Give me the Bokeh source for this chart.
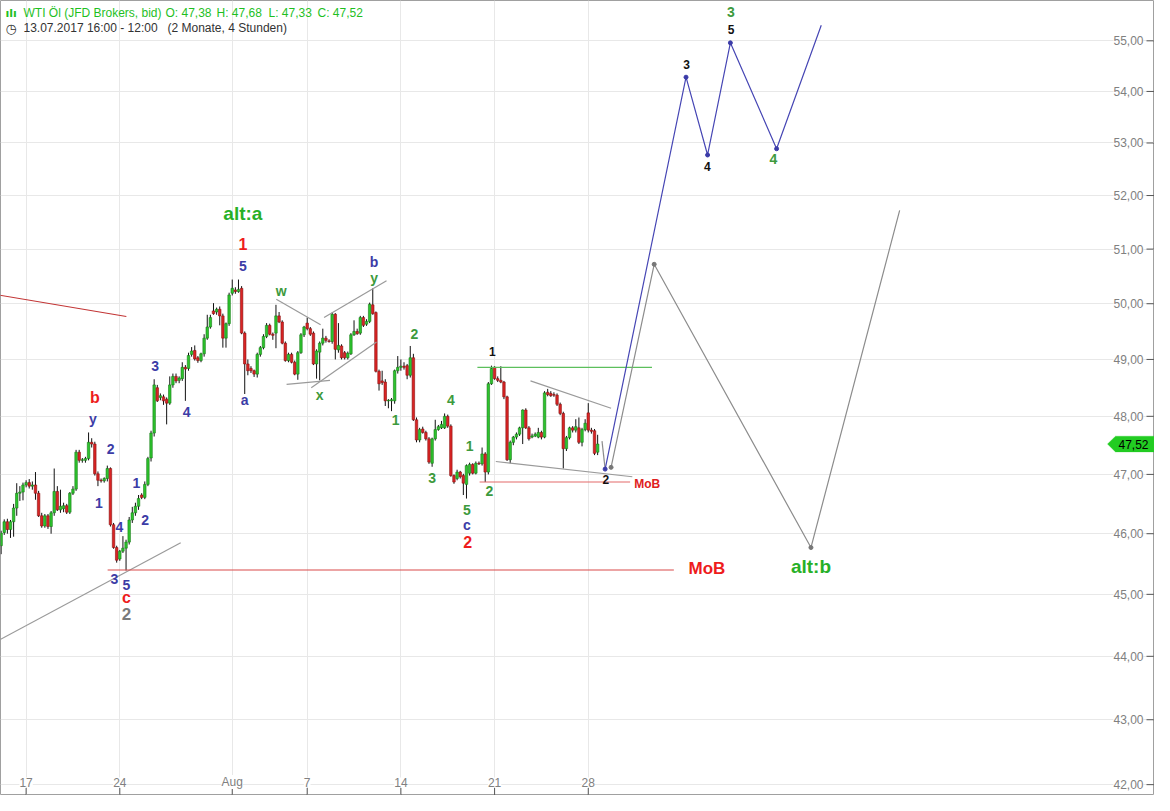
from bokeh.plotting import figure
from bokeh.models import Range1d, ColumnDataSource, Grid, FixedTicker, Label, PolyAnnotation
from bokeh.core.properties import value
from bokeh.embed import file_html
from bokeh.resources import INLINE

# ---------------- data: 4h candles from 13.07.2017 16:00 (index = candle slot) ----------------
open_ = [
45.80,46.02,46.20,46.07,46.20,46.43,46.68,46.70,46.82,46.86,
46.80,46.82,46.68,46.30,46.13,46.30,46.12,46.35,46.71,46.40,
46.42,46.47,46.36,46.68,46.75,47.38,47.24,47.24,47.27,47.55,
47.52,47.01,46.90,46.89,46.93,47.10,46.15,45.77,45.58,45.71,
45.76,45.86,46.23,46.35,46.46,46.65,46.61,46.83,47.28,47.71,
48.50,48.33,48.34,48.30,48.23,48.55,48.70,48.63,48.66,48.86,
48.84,49.09,49.16,49.03,48.98,49.10,49.38,49.58,49.87,49.85,
49.90,49.78,49.38,49.64,50.19,50.25,50.22,50.28,49.47,48.92,
48.84,48.80,48.74,49.09,49.21,49.41,49.61,49.45,49.47,49.78,
49.67,49.29,48.98,49.09,48.95,48.74,49.12,49.44,49.65,49.55,
49.47,48.92,49.13,49.29,49.38,49.33,49.32,49.81,49.17,49.24,
49.12,49.03,49.10,49.44,49.50,49.47,49.75,49.63,49.68,49.98,
49.84,48.79,48.62,48.60,48.27,48.27,48.27,48.80,48.86,48.88,
48.89,48.72,49.03,47.94,47.59,47.78,47.72,47.61,47.19,47.61,
47.77,47.80,47.80,48.00,47.83,46.98,46.93,47.04,46.98,46.83,
47.02,47.17,47.02,47.19,47.18,47.35,47.04,48.57,48.86,48.66,
48.63,48.60,48.34,47.25,47.55,47.64,47.69,47.80,48.11,47.80,
47.64,47.66,47.64,47.72,47.64,48.42,48.40,48.38,48.37,48.21,
48.05,47.44,47.63,47.80,47.76,47.80,47.55,47.77,48.06,47.76,
47.75,47.38]
high = [
46.05,46.24,46.25,46.23,46.50,46.85,46.80,46.86,46.90,46.92,
46.88,47.04,46.72,46.35,46.33,46.33,46.38,47.10,46.80,46.74,
46.52,46.50,46.70,46.80,47.42,47.42,47.28,47.30,47.72,47.62,
47.56,47.05,46.93,46.95,47.15,47.12,46.18,45.80,45.73,45.96,
45.90,46.28,46.45,46.52,46.65,46.68,46.88,47.30,47.75,48.65,
48.55,48.40,48.38,48.33,48.70,48.75,48.75,48.70,48.95,48.90,
49.12,49.22,49.25,49.06,49.12,49.45,49.80,49.80,50.01,49.93,
49.95,49.82,49.66,50.20,50.44,50.30,50.44,50.32,49.50,49.00,
48.88,48.82,49.12,49.24,49.45,49.65,49.64,49.48,49.98,49.85,
49.70,49.32,49.12,49.12,48.98,49.15,49.47,49.60,49.75,49.58,
49.50,49.18,49.32,49.55,49.42,49.36,49.84,49.83,49.65,49.27,
49.15,49.14,49.47,49.70,49.55,49.78,49.78,49.72,50.02,50.28,
49.86,48.82,48.80,48.65,48.30,48.32,48.82,49.06,49.00,48.95,
48.92,49.24,49.10,47.98,47.80,47.82,47.75,47.64,47.63,47.94,
47.85,47.92,48.05,48.03,47.86,47.00,47.08,47.06,47.01,47.17,
47.20,47.19,47.22,47.22,47.46,47.38,48.60,48.89,48.88,48.70,
48.88,48.62,48.36,47.58,47.66,47.72,47.82,48.12,48.14,47.83,
47.70,47.72,47.80,47.75,48.44,48.48,48.44,48.42,48.40,48.24,
48.08,47.66,47.82,47.83,47.95,47.98,47.80,47.95,48.23,47.80,
47.78,47.68]
low = [
45.66,45.98,46.00,45.93,45.95,46.30,46.55,46.56,46.78,46.76,
46.74,46.57,46.28,46.10,46.10,46.08,46.00,46.30,46.38,46.35,
46.36,46.33,46.33,46.65,46.72,47.20,47.20,47.20,47.24,47.46,
46.98,46.80,46.86,46.86,46.88,46.12,45.75,45.52,45.55,45.68,
45.39,45.82,46.18,46.30,46.40,46.58,46.58,46.80,47.22,47.65,
48.25,48.28,48.20,47.86,48.20,48.50,48.58,48.58,48.62,48.27,
48.80,49.05,48.98,48.94,48.95,49.05,49.35,49.55,49.80,49.80,
49.61,49.21,49.21,49.60,50.15,50.18,50.20,49.45,48.39,48.72,
48.76,48.69,48.68,49.05,49.18,49.38,49.43,49.35,49.20,49.65,
49.27,48.96,48.95,48.93,48.72,48.64,49.10,49.40,49.52,49.42,
48.90,48.66,48.63,49.25,49.30,49.30,49.28,49.00,49.12,49.00,
49.00,49.00,49.08,49.42,49.44,49.44,49.58,49.60,49.65,49.80,
48.77,48.45,48.55,48.18,48.14,48.09,48.22,48.75,48.80,48.82,
48.65,48.68,47.92,47.55,47.55,47.70,47.58,47.18,47.13,47.58,
47.75,47.78,47.78,47.80,46.96,46.84,46.90,46.93,46.65,46.59,
46.98,47.00,47.00,47.16,47.15,46.87,47.00,48.55,48.64,48.60,
48.58,48.30,47.23,47.19,47.50,47.60,47.66,47.52,47.78,47.58,
47.62,47.64,47.62,47.60,47.62,48.35,48.34,48.34,48.18,48.02,
47.10,47.40,47.60,47.72,47.72,47.52,47.48,47.74,47.72,47.70,
47.33,47.33]
close = [
46.01,46.20,46.07,46.20,46.43,46.68,46.70,46.82,46.86,46.80,
46.82,46.68,46.30,46.13,46.30,46.12,46.35,46.71,46.40,46.46,
46.47,46.36,46.68,46.75,47.38,47.24,47.25,47.27,47.55,47.52,
47.01,46.90,46.89,46.93,47.10,46.15,45.77,45.56,45.71,45.76,
45.86,46.23,46.35,46.46,46.59,46.61,46.83,47.27,47.71,48.55,
48.27,48.36,48.27,48.23,48.55,48.70,48.62,48.67,48.86,48.83,
49.07,49.15,49.01,48.98,49.10,49.38,49.58,49.75,49.82,49.90,
49.78,49.38,49.64,50.16,50.28,50.22,50.26,49.47,48.92,48.80,
48.80,48.74,49.09,49.21,49.41,49.61,49.45,49.43,49.78,49.67,
49.29,48.98,49.09,48.95,48.74,49.12,49.44,49.58,49.55,49.45,
48.92,49.15,49.29,49.38,49.34,49.32,49.81,49.18,49.25,49.03,
49.03,49.11,49.44,49.50,49.46,49.75,49.61,49.68,49.99,49.82,
48.79,48.57,48.59,48.27,48.28,48.29,48.80,48.86,48.88,48.86,
48.72,49.03,47.94,47.59,47.77,47.72,47.61,47.21,47.61,47.77,
47.82,47.86,48.00,47.83,46.98,46.87,47.04,46.96,46.85,47.15,
47.17,47.02,47.19,47.18,47.35,47.04,48.57,48.84,48.66,48.63,
48.60,48.34,47.25,47.55,47.64,47.69,47.80,48.11,47.80,47.61,
47.66,47.69,47.72,47.64,48.41,48.38,48.36,48.37,48.21,48.05,
47.44,47.63,47.80,47.76,47.82,47.55,47.77,47.88,47.76,47.74,
47.36,47.52]

date_tick_idx = [8, 38, 74, 98, 128, 158, 188]
date_tick_labels = ["17", "24", "Aug", "7", "14", "21", "28"]
price_ticks = [42, 43, 44, 45, 46, 47, 48, 49, 50, 51, 52, 53, 54, 55]

# wave labels
blue_lbl = ["y", "2", "1", "4", "3", "5", "1", "2", "3", "4", "5", "a", "b", "c"]
blue_x = [29.4, 35.1, 31.3, 37.9, 36.3, 40.1, 43.3, 46.1, 49.3, 59.4, 77.4, 78.0, 119.4, 149.1]
blue_y = [47.95, 47.44, 46.51, 46.11, 45.25, 45.16, 46.86, 46.23, 48.88, 48.07, 50.68, 48.28, 50.77, 46.15]

green_lbl = ["w", "x", "y", "1", "2", "3", "4", "5", "1", "2", "3", "4"]
green_x = [89.7, 102.0, 119.4, 126.3, 132.3, 138.0, 144.0, 149.1, 150.0, 156.3, 233.7, 247.3]
green_y = [50.24, 48.38, 50.47, 47.93, 49.46, 46.94, 48.29, 46.40, 47.48, 46.72, 55.57, 52.70]

red_lbl = ["b", "c", "1", "2"]
red_x = [30.0, 40.1, 77.4, 149.4]
red_y = [48.33, 44.95, 51.10, 45.87]

grey_lbl = ["2"]
grey_x = [40.1]
grey_y = [44.68]

alt_lbl = ["alt:a", "alt:b"]
alt_x = [77.4, 259.3]
alt_y = [51.67, 45.46]

black_lbl = ["1", "2", "3", "4", "5"]
black_x = [157.3, 193.6, 219.5, 226.1, 233.7]
black_y = [49.14, 46.91, 54.53, 52.55, 55.23]

mob_small = ("MoB", 202.7, 46.84)
mob_big = ("MoB", 220.1, 45.43)

# drawn trend lines
red_trend_x, red_trend_y = [-1.0, 40.1], [50.16, 49.77]
grey_support_x, grey_support_y = [-1.0, 57.5], [44.25, 45.85]
mob_line_x, mob_line_y = [34.1, 215.4], [45.40, 45.40]
mob2_line_x, mob2_line_y = [153.2, 201.4], [46.87, 46.87]
res_line_x, res_line_y = [152.5, 208.4], [48.86, 48.86]
tri_lo_x, tri_lo_y = [158.4, 202.1], [47.22, 46.96]
tri_hi_x, tri_hi_y = [169.5, 195.3], [48.62, 48.14]
w_line_x, w_line_y = [88.1, 102.3], [50.08, 49.62]
x_line_x, x_line_y = [91.4, 105.3], [48.56, 48.63]
ch_hi_x, ch_hi_y = [103.4, 123.4], [49.75, 50.42]
ch_lo_x, ch_lo_y = [99.3, 120.2], [48.50, 49.31]

# projections
blue_proj_x = [193.4, 219.3, 226.2, 233.5, 248.3, 262.6]
blue_proj_y = [47.09, 54.28, 52.77, 54.96, 52.89, 55.31]
grey_proj_x = [195.3, 209.1, 259.3, 287.7]
grey_proj_y = [47.12, 50.72, 45.77, 51.72]
link_x, link_y = [192.4, 193.4], [47.57, 47.09]

last_price = 47.52

# ---------------- figure ----------------
W, H = 1154, 795
X_LO, X_HI = -0.2, 369.3
Y_LO, Y_HI = 41.835, 55.81

p = figure(width=W, height=H, x_range=Range1d(X_LO, X_HI), y_range=Range1d(Y_LO, Y_HI),
           y_axis_type="log", x_axis_location=None, y_axis_location=None,
           toolbar_location=None, output_backend="svg", min_border=0)
p.grid.visible = False
p.outline_line_color = "#a0a0a0"
p.background_fill_color = "white"
p.border_fill_color = "white"

p.add_layout(Grid(dimension=0, ticker=FixedTicker(ticks=date_tick_idx), grid_line_color="#e8e8e8"))
p.add_layout(Grid(dimension=1, ticker=FixedTicker(ticks=price_ticks), grid_line_color="#e8e8e8"))

FONT = "Liberation Sans"

# candles
idx = list(range(len(close)))
up = [c >= o for o, c in zip(open_, close)]
src = ColumnDataSource(dict(
    x=idx, o=open_, h=high, l=low, c=close,
    top=[max(o, c) for o, c in zip(open_, close)],
    bot=[min(o, c) for o, c in zip(open_, close)],
    fill=["#2dc42d" if u else "#d92424" for u in up],
    line=["#157a15" if u else "#8a1010" for u in up],
))
p.segment(x0="x", y0="l", x1="x", y1="h", source=src, line_color="#111111", line_width=1)
p.vbar(x="x", width=0.8, top="top", bottom="bot", source=src,
       fill_color="fill", line_color="line", line_width=0.6)

# trend lines
p.line(red_trend_x, red_trend_y, line_color="#c23434", line_width=1.1)
p.line(grey_support_x, grey_support_y, line_color="#9a9a9a", line_width=1.2)
p.line(mob_line_x, mob_line_y, line_color="#d94a4a", line_width=1.1)
p.line(mob2_line_x, mob2_line_y, line_color="#e46a6a", line_width=1.1)
p.line(res_line_x, res_line_y, line_color="#5cbf5c", line_width=1.3)
for xs, ys in [(tri_lo_x, tri_lo_y), (tri_hi_x, tri_hi_y), (w_line_x, w_line_y),
               (x_line_x, x_line_y), (ch_hi_x, ch_hi_y), (ch_lo_x, ch_lo_y)]:
    p.line(xs, ys, line_color="#9a9a9a", line_width=1.2)

# projections
p.line(link_x, link_y, line_color="#8c8c8c", line_width=1.2)
p.line(grey_proj_x, grey_proj_y, line_color="#8c8c8c", line_width=1.2)
p.scatter(grey_proj_x[:3], grey_proj_y[:3], size=4, color="#777777")
p.line(blue_proj_x, blue_proj_y, line_color="#4646b4", line_width=1.2)
p.scatter(blue_proj_x[:5], blue_proj_y[:5], size=4, color="#3b3ba8")

def labels(xs, ys, txt, color, size, bold=True, align="center"):
    p.text(x=xs, y=ys, text=txt, text_color=color, text_font=value(FONT),
           text_font_size=size, text_font_style="bold" if bold else "normal",
           text_align=align, text_baseline="middle")

labels(blue_x, blue_y, blue_lbl, "#3c3ca6", "14px")
labels(green_x, green_y, green_lbl, "#3d9a3d", "14px")
labels(red_x, red_y, red_lbl, "#ee1c1c", "16px")
labels(grey_x, grey_y, grey_lbl, "#7a7a7a", "17px")
labels(alt_x, alt_y, alt_lbl, "#27b027", "19px")
labels(black_x, black_y, black_lbl, "#111111", "12px")
labels([mob_small[1]], [mob_small[2]], [mob_small[0]], "#e02020", "12px", align="left")
labels([mob_big[1]], [mob_big[2]], [mob_big[0]], "#ee1c1c", "17px", align="left")

# ---------------- axis decorations (labels drawn inside the frame) ----------------
def x_at(sx):
    return X_LO + sx / W * (X_HI - X_LO)

for v in price_ticks:
    p.add_layout(Label(x=1143, x_units="screen", y=v, y_units="data", text=f"{v},00",
                       text_align="right", text_baseline="middle", text_font=FONT,
                       text_font_size="12px", text_color="#808080",
                       background_fill_color="white"))
p.segment(x0=[x_at(1146)] * len(price_ticks), x1=[x_at(1154)] * len(price_ticks),
          y0=price_ticks, y1=price_ticks, line_color="#555555", line_width=1)

for t, lab in zip(date_tick_idx, date_tick_labels):
    p.add_layout(Label(x=t, y=42.04, text=lab, text_align="center", text_baseline="middle",
                       text_font=FONT, text_font_size="12px", text_color="#808080",
                       background_fill_color="white"))
p.segment(x0=date_tick_idx, x1=date_tick_idx, y0=[41.95] * len(date_tick_idx),
          y1=[Y_LO] * len(date_tick_idx), line_color="#555555", line_width=1)

# last price tag
p.add_layout(PolyAnnotation(xs=[1107, 1115, 1154, 1154, 1115], ys=[47.52, 47.655, 47.655, 47.385, 47.385],
                            xs_units="screen", ys_units="data", fill_color="#22cc22", fill_alpha=1.0,
                            line_color="#22cc22"))
p.add_layout(Label(x=1133, x_units="screen", y=last_price, text="47,52", text_align="center",
                   text_baseline="middle", text_font=FONT, text_font_size="12px", text_color="#000000"))

# header
GREEN = "#1fbf1f"
for sx, txt in [(23, "WTI Öl (JFD Brokers, bid)"), (165, "O: 47,38"), (216, "H: 47,68"),
                (268, "L: 47,33"), (317, "C: 47,52")]:
    p.add_layout(Label(x=sx, x_units="screen", y=55.55, text=txt, text_align="left",
                       text_baseline="middle", text_font=FONT, text_font_size="12px", text_color=GREEN))
for sx, txt in [(23, "13.07.2017 16:00 - 12:00"), (167, "(2 Monate, 4 Stunden)")]:
    p.add_layout(Label(x=sx, x_units="screen", y=55.25, text=txt, text_align="left",
                       text_baseline="middle", text_font=FONT, text_font_size="12px", text_color="#333333"))
p.add_layout(Label(x=5, x_units="screen", y=55.55, text="ılı", text_align="left", text_baseline="middle",
                   text_font="DejaVu Sans", text_font_size="11px", text_font_style="bold", text_color=GREEN))
p.add_layout(Label(x=5, x_units="screen", y=55.25, text="◷", text_align="left", text_baseline="middle",
                   text_font="DejaVu Sans", text_font_size="13px", text_color="#333333"))

open("out.html", "w").write(file_html(p, INLINE))
